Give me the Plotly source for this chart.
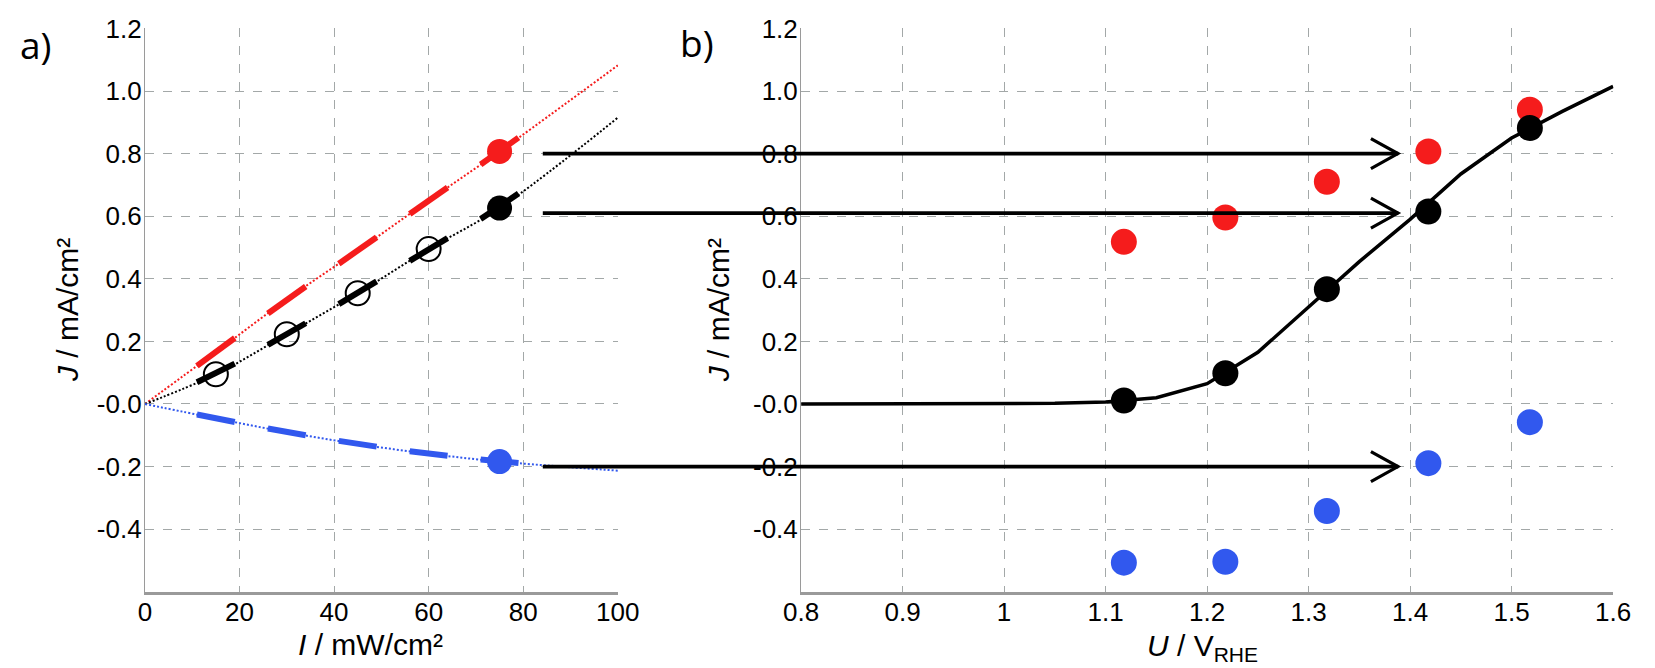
import numpy as np
import plotly.graph_objects as go

# ---- panel a): photocurrent vs light intensity ----
I_pts = [15, 30, 45, 60, 75]           # mW/cm2
J_red_a = [0.166, 0.334, 0.490, 0.650, 0.807]
J_black_a = [0.095, 0.223, 0.354, 0.495, 0.626]
J_blue_a = [-0.046, -0.090, -0.128, -0.159, -0.184]

# fitted curves (origin, points, end of axis)
I_fit = [0, 15, 30, 45, 60, 75, 100]
J_red_fit = [0, 0.166, 0.334, 0.490, 0.650, 0.807, 1.082]
J_black_fit = [0, 0.095, 0.223, 0.354, 0.495, 0.626, 0.915]
J_blue_fit = [0, -0.046, -0.090, -0.128, -0.159, -0.184, -0.213]

# ---- panel b): photocurrent vs potential ----
U_pts = [1.118, 1.218, 1.318, 1.418, 1.518]
J_red_b = [0.518, 0.596, 0.710, 0.807, 0.940]
J_black_b = [0.011, 0.098, 0.367, 0.615, 0.882]
J_blue_b = [-0.507, -0.504, -0.342, -0.189, -0.058]

U_curve = [0.8, 0.9, 1.0, 1.05, 1.1, 1.15, 1.2, 1.25, 1.3, 1.35, 1.4, 1.45, 1.5, 1.55, 1.6]
J_curve = [0, 0, 0, 0.002, 0.006, 0.02, 0.065, 0.165, 0.31, 0.455, 0.59, 0.735, 0.85, 0.935, 1.015]

# arrows from panel a) to panel b)
arrow_J = [0.80, 0.61, -0.20]
arrow_I_start = 84.1
arrow_U_tip = 1.388

y_ticks = [-0.4, -0.2, 0, 0.2, 0.4, 0.6, 0.8, 1.0, 1.2]
y_ticktext = ["-0.4", "-0.2", "-0.0", "0.2", "0.4", "0.6", "0.8", "1.0", "1.2"]
xa_ticks = [0, 20, 40, 60, 80, 100]
xb_ticks = [0.8, 0.9, 1.0, 1.1, 1.2, 1.3, 1.4, 1.5, 1.6]
xb_ticktext = ["0.8", "0.9", "1", "1.1", "1.2", "1.3", "1.4", "1.5", "1.6"]

RED = "#f51c1c"
BLUE = "#3158ee"
BLACK = "#000000"
GRID = "#a3a8a8"
FONT = "Liberation Sans, Arial, sans-serif"

W, H = 1655, 668
dom_a = [130 / W, 614.5 / W]
dom_b = [802 / W, 1634 / W]
dom_y = [1 - 590 / H, 1 - 13.6 / H]
Y_RANGE = [-0.6, 1.2005]


def segments(xf, yf, centers, half=4):
    # short thick pieces of the fit around each measured intensity
    xs, ys = [], []
    for c in centers:
        for x in (c - half, c + half):
            xs.append(x)
            ys.append(float(np.interp(x, xf, yf)))
        xs.append(None)
        ys.append(None)
    return xs, ys


fig = go.Figure()

for J_fit, color in [(J_red_fit, RED), (J_black_fit, BLACK), (J_blue_fit, BLUE)]:
    fig.add_trace(go.Scatter(
        x=I_fit, y=J_fit, mode="lines", line_shape="spline",
        line=dict(color=color, width=2, dash="2px,2px"),
        xaxis="x", yaxis="y", hoverinfo="skip",
    ))
    sx, sy = segments(I_fit, J_fit, I_pts)
    fig.add_trace(go.Scatter(
        x=sx, y=sy, mode="lines", line=dict(color=color, width=6),
        xaxis="x", yaxis="y", hoverinfo="skip",
    ))

# open circles (black series, lower intensities)
fig.add_trace(go.Scatter(
    x=I_pts[:-1], y=J_black_a[:-1], mode="markers",
    marker=dict(size=24, color="rgba(0,0,0,0)", line=dict(color=BLACK, width=2)),
    xaxis="x", yaxis="y",
))
# filled points at 75 mW/cm2
for J_a, color in [(J_red_a, RED), (J_black_a, BLACK), (J_blue_a, BLUE)]:
    fig.add_trace(go.Scatter(
        x=[I_pts[-1]], y=[J_a[-1]], mode="markers",
        marker=dict(size=25, color=color), xaxis="x", yaxis="y",
    ))

# panel b)
fig.add_trace(go.Scatter(
    x=U_curve, y=J_curve, mode="lines", line=dict(color=BLACK, width=3.5),
    xaxis="x2", yaxis="y2", hoverinfo="skip",
))
for J_b, color in [(J_red_b, RED), (J_blue_b, BLUE), (J_black_b, BLACK)]:
    fig.add_trace(go.Scatter(
        x=U_pts, y=J_b, mode="markers", marker=dict(size=26, color=color),
        xaxis="x2", yaxis="y2",
    ))


def paper_a(i):
    return dom_a[0] + i / 100 * (dom_a[1] - dom_a[0])


def paper_b(u):
    return dom_b[0] + (u - 0.8) / 0.8 * (dom_b[1] - dom_b[0])


shapes = []
for j in arrow_J:
    shapes.append(dict(
        type="line", xref="paper", yref="y",
        x0=paper_a(arrow_I_start), x1=paper_b(arrow_U_tip), y0=j, y1=j,
        line=dict(color=BLACK, width=3.8),
    ))
    shapes.append(dict(
        type="path", xref="x2", yref="y2",
        xsizemode="pixel", ysizemode="pixel",
        xanchor=arrow_U_tip, yanchor=j,
        path="M -27,15 L 0,0 L -27,-15",
        line=dict(color=BLACK, width=3.2),
    ))

axis_common = dict(
    showgrid=True, gridcolor=GRID, gridwidth=1.3, griddash="9px,9px",
    zeroline=False, ticks="", ticklen=0, showline=True, linecolor="#9a9a9a",
    ticklabeloverflow="allow",
    tickfont=dict(family=FONT, size=26, color=BLACK),
)

title_font = dict(family=FONT, size=30, color=BLACK)
annotations = [
    dict(text="<i>I</i> / mW/cm²", x=361 / W, y=1 - 626 / H, xref="paper", yref="paper",
         xanchor="center", yanchor="top", showarrow=False, font=title_font, borderpad=0),
    dict(text="<i>U</i> / V<sub>RHE</sub>", x=1213 / W, y=1 - 667 / H, xref="paper", yref="paper",
         xanchor="center", yanchor="bottom", showarrow=False, font=title_font, borderpad=0),
    dict(text="<i>J</i> / mA/cm²", x=50 / W, y=1 - 302 / H, xref="paper", yref="paper",
         xanchor="center", yanchor="middle", textangle=-90, showarrow=False, font=title_font),
    dict(text="<i>J</i> / mA/cm²", x=717 / W, y=1 - 302 / H, xref="paper", yref="paper",
         xanchor="center", yanchor="middle", textangle=-90, showarrow=False, font=title_font),
    dict(text="a)", x=0, y=1 - 2 / H, xref="paper", yref="paper",
         xanchor="left", yanchor="top", showarrow=False,
         font=dict(family="Open Sans, sans-serif", size=37, color=BLACK)),
    dict(text="b)", x=676 / W, y=1 - 0 / H, xref="paper", yref="paper",
         xanchor="left", yanchor="top", showarrow=False,
         font=dict(family="Open Sans, sans-serif", size=37, color=BLACK)),
]

fig.update_layout(
    width=W, height=H,
    margin=dict(l=0, r=0, t=0, b=0),
    paper_bgcolor="white", plot_bgcolor="white",
    showlegend=False,
    xaxis=dict(domain=dom_a, range=[0, 100.05], tickvals=xa_ticks, anchor="y",
               linewidth=2.5, ticklabelstandoff=-5, **axis_common),
    yaxis=dict(domain=dom_y, range=Y_RANGE, tickvals=y_ticks, ticktext=y_ticktext,
               anchor="x", linewidth=1.2, ticklabelstandoff=-3, **axis_common),
    xaxis2=dict(domain=dom_b, range=[0.8, 1.6004], tickvals=xb_ticks, ticktext=xb_ticktext,
                anchor="y2", linewidth=2.5, ticklabelstandoff=-5, **axis_common),
    yaxis2=dict(domain=dom_y, range=Y_RANGE, tickvals=y_ticks, ticktext=y_ticktext,
                anchor="x2", linewidth=1.2, ticklabelstandoff=-3, **axis_common),
    shapes=shapes,
    annotations=annotations,
)

# page body margin would shift the 1655x668 figure inside the same-sized window
fig.write_html("out.html", config={"displayModeBar": False},
               post_script="document.body.style.margin = '0px';")
